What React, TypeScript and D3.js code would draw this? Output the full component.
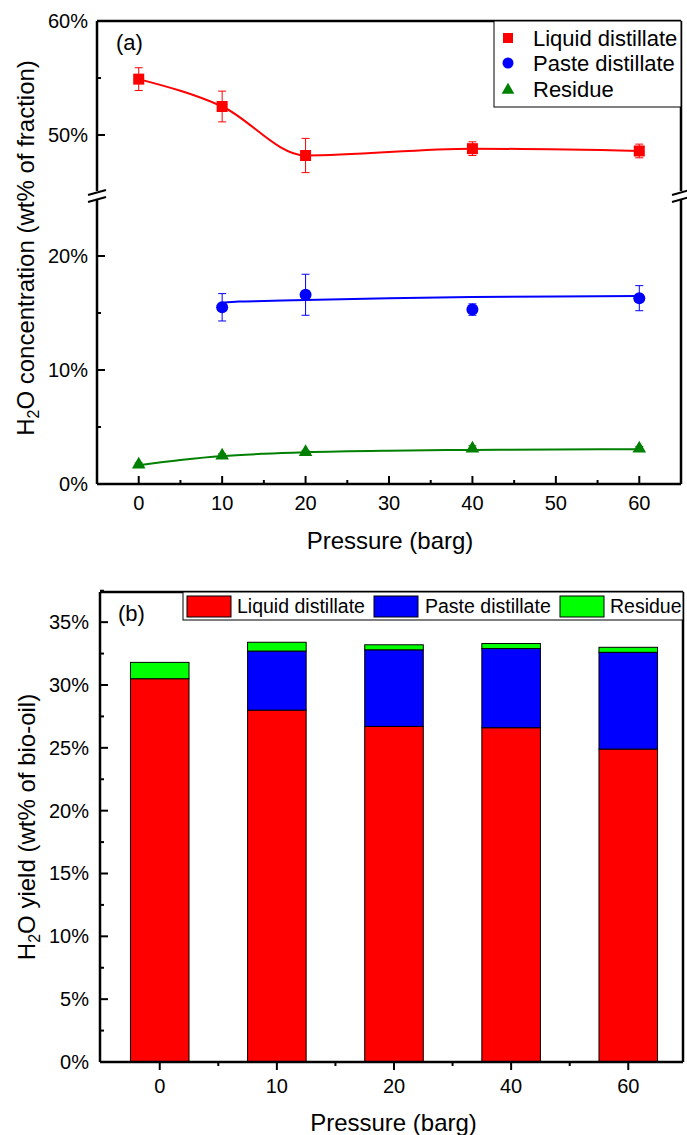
import * as d3 from "d3"
import React from "react"

// panel (a): H2O concentration by fraction
const pressures = [0, 10, 20, 40, 60]
const liquidConc = [54.9, 52.5, 48.2, 48.8, 48.6]
const liquidErr = [1.0, 1.35, 1.5, 0.6, 0.6]
const pastePressures = [10, 20, 40, 60]
const pasteConc = [15.5, 16.6, 15.3, 16.3]
const pasteErr = [1.2, 1.8, 0.5, 1.1]
const residueConc = [1.7, 2.5, 2.8, 3.1, 3.1]
const residueErr = [0.15, 0.15, 0.15, 0.25, 0.2]

// fitted curves
const pasteFitX = [10, 12, 15, 20, 30, 40, 50, 60]
const pasteFit = [15.9, 16.0, 16.05, 16.15, 16.3, 16.4, 16.45, 16.5]
const residueFitX = [0, 5, 10, 15, 20, 30, 40, 50, 60]
const residueFit = [1.65, 2.1, 2.45, 2.65, 2.78, 2.92, 2.99, 3.03, 3.05]

const xTicksA = [0, 10, 20, 30, 40, 50, 60]
const yTicksLow = [0, 10, 20]
const yTicksHigh = [50, 60]

// panel (b): H2O yield, stacked
const categories = ["0", "10", "20", "40", "60"]
const liquidYield = [30.5, 28.0, 26.7, 26.6, 24.9]
const pasteYield = [0, 4.7, 6.1, 6.3, 7.7]
const residueYield = [1.3, 0.7, 0.4, 0.4, 0.4]
const yTicksB = [0, 5, 10, 15, 20, 25, 30, 35]

const font = "'Liberation Sans', Arial, sans-serif"
const RED = "#ff0000", BLUE = "#0000ff", GREEN_A = "#008000", GREEN_B = "#00ff00"

const ErrBars = ({ xs, ys, es, x, y, color }) => (
  <g stroke={color} strokeWidth={1}>
    {xs.map((p, i) => {
      const cx = x(p), y1 = y(ys[i] - es[i]), y2 = y(ys[i] + es[i])
      return (
        <g key={i}>
          <line x1={cx} x2={cx} y1={y1} y2={y2} />
          <line x1={cx - 4} x2={cx + 4} y1={y1} y2={y1} />
          <line x1={cx - 4} x2={cx + 4} y1={y2} y2={y2} />
        </g>
      )
    })}
  </g>
)

const triangle = d3.symbol(d3.symbolTriangle, 80)()

const PanelA = () => {
  const left = 97, right = 681, top = 21, bottom = 484
  const x = d3.scaleLinear().domain([-5, 65]).range([left, right])
  const yLow = d3.scaleLinear().domain([0, 25]).range([bottom, 199])
  const yHigh = d3.scaleLinear().domain([45, 60]).range([192, top])
  const brk = 196

  const liquidLine = d3.line().curve(d3.curveMonotoneX)
    .x((d) => x(d[0])).y((d) => yHigh(d[1]))(pressures.map((p, i) => [p, liquidConc[i]]))
  const pasteLine = d3.line().curve(d3.curveMonotoneX)
    .x((d) => x(d[0])).y((d) => yLow(d[1]))(pasteFitX.map((p, i) => [p, pasteFit[i]]))
  const residueLine = d3.line().curve(d3.curveMonotoneX)
    .x((d) => x(d[0])).y((d) => yLow(d[1]))(residueFitX.map((p, i) => [p, residueFit[i]]))

  const breakMarks = (bx) => (
    <g stroke="#000" strokeWidth={2}>
      <line x1={bx} x2={bx} y1={brk - 5} y2={brk + 3} stroke="#fff" strokeWidth={4} />
      <line x1={bx - 9} x2={bx + 9} y1={brk - 1} y2={brk - 6} />
      <line x1={bx - 9} x2={bx + 9} y1={brk + 6} y2={brk + 1} />
    </g>
  )

  return (
    <g fontFamily={font}>
      {/* frame */}
      <g stroke="#000" strokeWidth={2.5} fill="none">
        <line x1={left} x2={right} y1={top} y2={top} />
        <line x1={left} x2={right} y1={bottom} y2={bottom} />
        <line x1={left} x2={left} y1={top} y2={bottom} />
        <line x1={right} x2={right} y1={top} y2={bottom} />
      </g>
      {breakMarks(left)}
      {breakMarks(right)}
      {/* ticks */}
      <g stroke="#000" strokeWidth={2}>
        {xTicksA.map((t) => <line key={t} x1={x(t)} x2={x(t)} y1={bottom} y2={bottom - 8} />)}
        {xTicksA.slice(0, -1).map((t) => <line key={"m" + t} x1={x(t + 5)} x2={x(t + 5)} y1={bottom} y2={bottom - 4} />)}
        {yTicksLow.map((t) => <line key={t} x1={left} x2={left + 8} y1={yLow(t)} y2={yLow(t)} />)}
        {[5, 15].map((t) => <line key={t} x1={left} x2={left + 4} y1={yLow(t)} y2={yLow(t)} />)}
        {yTicksHigh.map((t) => <line key={t} x1={left} x2={left + 8} y1={yHigh(t)} y2={yHigh(t)} />)}
        <line x1={left} x2={left + 4} y1={yHigh(55)} y2={yHigh(55)} />
      </g>
      <g fontSize={20} fill="#000">
        {xTicksA.map((t) => <text key={t} x={x(t)} y={bottom + 26} textAnchor="middle">{t}</text>)}
        {yTicksLow.map((t) => <text key={t} x={left - 9} y={yLow(t) + 7} textAnchor="end">{t}%</text>)}
        {yTicksHigh.map((t) => <text key={t} x={left - 9} y={yHigh(t) + 7} textAnchor="end">{t}%</text>)}
      </g>
      <text x={(left + right) / 2 + 1} y={549} textAnchor="middle" fontSize={24}>Pressure (barg)</text>
      <text transform="translate(34,248) rotate(-90)" textAnchor="middle" fontSize={24}>
        <tspan>H</tspan><tspan dy={5} fontSize={16}>2</tspan><tspan dy={-5}>O concentration (wt% of fraction)</tspan>
      </text>
      <text x={116} y={50} fontSize={22}>(a)</text>

      {/* curves */}
      <g fill="none" strokeWidth={2}>
        <path d={liquidLine} stroke={RED} />
        <path d={pasteLine} stroke={BLUE} />
        <path d={residueLine} stroke={GREEN_A} />
      </g>
      <ErrBars xs={pressures} ys={liquidConc} es={liquidErr} x={x} y={yHigh} color={RED} />
      <ErrBars xs={pastePressures} ys={pasteConc} es={pasteErr} x={x} y={yLow} color={BLUE} />
      <ErrBars xs={pressures} ys={residueConc} es={residueErr} x={x} y={yLow} color={GREEN_A} />
      {pressures.map((p, i) => (
        <rect key={i} x={x(p) - 5.5} y={yHigh(liquidConc[i]) - 5.5} width={11} height={11} fill={RED} />
      ))}
      {pastePressures.map((p, i) => (
        <circle key={i} cx={x(p)} cy={yLow(pasteConc[i])} r={6} fill={BLUE} />
      ))}
      {pressures.map((p, i) => (
        <path key={i} d={triangle} transform={`translate(${x(p)},${yLow(residueConc[i])})`} fill={GREEN_A} />
      ))}

      {/* legend */}
      <rect x={494} y={top} width={right - 494} height={86} fill="#fff" stroke="#000" strokeWidth={1} />
      <g fontSize={22}>
        <rect x={503} y={33} width={10} height={10} fill={RED} />
        <text x={533} y={46}>Liquid distillate</text>
        <circle cx={508} cy={63} r={5.5} fill={BLUE} />
        <text x={533} y={71}>Paste distillate</text>
        <path d={d3.symbol(d3.symbolTriangle, 70)()} transform="translate(508,90)" fill={GREEN_A} />
        <text x={533} y={97}>Residue</text>
      </g>
    </g>
  )
}

const PanelB = () => {
  const left = 100, right = 683, top = 592, bottom = 1062
  const x = d3.scaleBand().domain(categories).range([left, 688]).paddingInner(0.5).paddingOuter(0.26)
  const y = d3.scaleLinear().domain([0, 37.4]).range([bottom, top])
  const rows = categories.map((c, i) => ({ c, liquid: liquidYield[i], paste: pasteYield[i], residue: residueYield[i] }))
  const stack = d3.stack().keys(["liquid", "paste", "residue"])(rows)
  const colors = { liquid: RED, paste: BLUE, residue: GREEN_B }
  const legend = [
    { key: "liquid", label: "Liquid distillate", sx: 187, tx: 237 },
    { key: "paste", label: "Paste distillate", sx: 374, tx: 425 },
    { key: "residue", label: "Residue", sx: 560, tx: 610 },
  ]

  return (
    <g fontFamily={font}>
      {stack.map((s) => (
        <g key={s.key} fill={colors[s.key]} stroke="#000" strokeWidth={1}>
          {s.map((d, i) => d[1] - d[0] > 0 && (
            <rect key={i} x={x(categories[i])} width={x.bandwidth()} y={y(d[1])} height={y(d[0]) - y(d[1])} />
          ))}
        </g>
      ))}
      <g stroke="#000" strokeWidth={2.5} fill="none">
        <line x1={left} x2={right} y1={top} y2={top} />
        <line x1={left} x2={right} y1={bottom} y2={bottom} />
        <line x1={left} x2={left} y1={top} y2={bottom} />
        <line x1={right} x2={right} y1={top} y2={bottom} />
      </g>
      <g stroke="#000" strokeWidth={2}>
        {categories.map((c) => {
          const cx = x(c) + x.bandwidth() / 2
          return <line key={c} x1={cx} x2={cx} y1={bottom} y2={bottom + 8} />
        })}
        {categories.slice(1).map((c) => {
          const cx = x(c) - x.step() / 2 + x.bandwidth() / 2
          return <line key={c} x1={cx} x2={cx} y1={bottom} y2={bottom + 4} />
        })}
        {yTicksB.map((t) => <line key={t} x1={left} x2={left + 8} y1={y(t)} y2={y(t)} />)}
        {yTicksB.map((t) => <line key={"m" + t} x1={left} x2={left + 4} y1={y(t + 2.5)} y2={y(t + 2.5)} />)}
      </g>
      <g fontSize={20}>
        {categories.map((c) => <text key={c} x={x(c) + x.bandwidth() / 2} y={bottom + 31} textAnchor="middle">{c}</text>)}
        {yTicksB.map((t) => <text key={t} x={left - 11} y={y(t) + 7} textAnchor="end">{t}%</text>)}
      </g>
      <text x={(left + right) / 2 + 2} y={1131} textAnchor="middle" fontSize={24}>Pressure (barg)</text>
      <text transform={`translate(35,${(top + bottom) / 2}) rotate(-90)`} textAnchor="middle" fontSize={24}>
        <tspan>H</tspan><tspan dy={5} fontSize={16}>2</tspan><tspan dy={-5}>O yield (wt% of bio-oil)</tspan>
      </text>
      <text x={118} y={621} fontSize={22}>(b)</text>

      <rect x={183} y={top} width={right - 183} height={28} fill="#fff" stroke="#000" strokeWidth={1} />
      <g fontSize={19.5}>
        {legend.map((l) => (
          <g key={l.key}>
            <rect x={l.sx} y={596} width={44} height={21} fill={colors[l.key]} stroke="#000" strokeWidth={1} />
            <text x={l.tx} y={613}>{l.label}</text>
          </g>
        ))}
      </g>
    </g>
  )
}

export default function App() {
  return (
    <svg width={687} height={1135} viewBox="0 0 687 1135"
      style={{ position: "absolute", left: 0, top: 0, background: "#fff" }}>
      <PanelA />
      <PanelB />
    </svg>
  )
}
